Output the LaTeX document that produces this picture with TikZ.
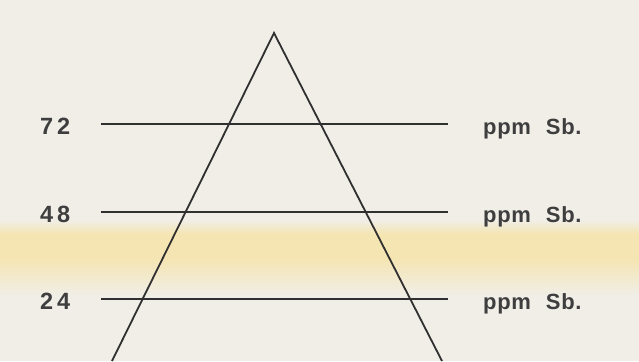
\documentclass[tikz,border=0pt]{standalone}
\usepackage{fontspec}
\setmainfont{Liberation Sans}[LetterSpace=3]
\newfontfamily\numfont{Liberation Sans}[LetterSpace=16]
\usetikzlibrary{positioning}

\definecolor{paper}{RGB}{240,238,231}
\definecolor{stain}{RGB}{245,229,178}
\definecolor{ink}{RGB}{48,48,48}
\definecolor{lettering}{RGB}{62,62,62}

\begin{document}
\begin{tikzpicture}[x=1pt, y=-1pt,
  level/.style={ink, line width=1.4pt},
  leg/.style={ink, line width=1.8pt, line join=miter},
  lbl/.style={text=lettering, font=\fontsize{22}{22}\selectfont\bfseries, inner sep=0pt}]
  % Hoja
  \fill[paper] (0,0) rectangle (639,361);
  \useasboundingbox (0,0) rectangle (639,361);
  % Mancha amarilla
  \shade[top color=paper, bottom color=stain] (0,220) rectangle (639,234);
  \fill[stain] (0,234) rectangle (639,258);
  \shade[top color=stain, bottom color=paper] (0,258) rectangle (639,296);
  % Triangulo
  \coordinate (apex) at (274,33);
  \coordinate (baseL) at (112,361);
  \coordinate (baseR) at (442,361);
  \draw[leg] (baseL) -- (apex) -- (baseR);
  % Niveles
  \foreach \v/\y in {72/124, 48/212, 24/299} {
    \node[lbl, anchor=base west] (n\v) at (40,\y+10.5)
      {\fontsize{23.5}{24}\numfont\bfseries\v};
    \node[lbl, anchor=base west] (u\v) at (483,\y+10) {ppm\hspace{15pt}Sb.};
    \coordinate (a\v) at (101,\y);
    \coordinate (b\v) at (448,\y);
    \draw[level] (a\v) -- (b\v);
  }
\end{tikzpicture}
\end{document}
